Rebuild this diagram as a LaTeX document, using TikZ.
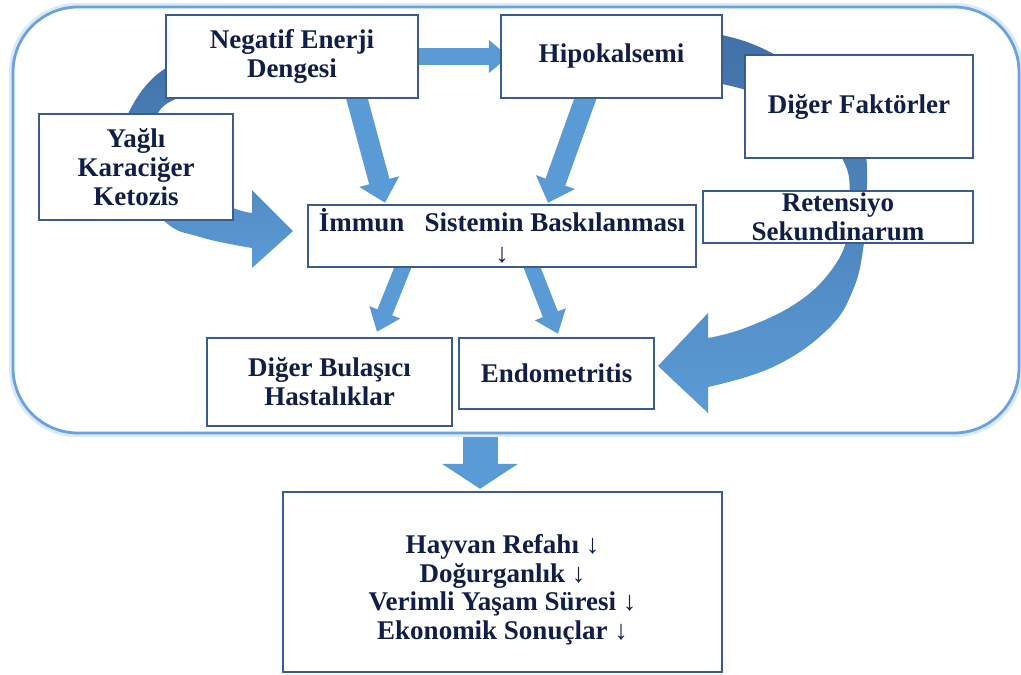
\documentclass[tikz,border=0pt]{standalone}
\usepackage{fontspec}
\setmainfont{Liberation Serif}
\usetikzlibrary{arrows.meta}
\pgfdeclarelayer{back}
\pgfdeclarelayer{arrowlayer}
\pgfsetlayers{back,arrowlayer,main}
\definecolor{arrowblue}{RGB}{91,155,213}
\definecolor{arrowdark}{RGB}{66,112,168}
\definecolor{boxline}{RGB}{58,92,140}
\definecolor{txtcol}{RGB}{16,30,72}
\definecolor{frameblue}{RGB}{105,162,220}
\definecolor{frameglow}{RGB}{218,234,249}
\begin{document}
\begin{tikzpicture}[x=1pt,y=-1pt,
  box/.style={draw=boxline, line width=2.4pt, fill=white, inner sep=0pt, align=center,
    font=\fontsize{27}{29}\selectfont\bfseries, text=txtcol},
  plain/.style={inner sep=0pt, align=center, font=\fontsize{27}{28.5}\selectfont\bfseries, text=txtcol},
  barrow/.style n args={3}{draw=arrowblue, line width=#1, -{Triangle[width=#2, length=#3]}},
  curvearrow/.style={top color=arrowdark, bottom color=arrowblue, draw=none}
]
\useasboundingbox (0,0) rectangle (1021,675);

% outer frame
\node[draw=frameblue, line width=2.8pt, rounded corners=65pt, minimum width=1006pt, minimum height=426pt, inner sep=0pt] (frame) at (516,220) {};
\begin{pgfonlayer}{back}
\draw[frameglow, line width=5pt, rounded corners=65pt] (frame.south west) rectangle (frame.north east);
\end{pgfonlayer}

% boxes
\node[box, minimum width=252pt, minimum height=83pt] (neg) at (292,56.5) {Negatif Enerji\\Dengesi};
\node[box, minimum width=221pt, minimum height=83pt] (hip) at (611.5,56.5) {Hipokalsemi};
\node[box, minimum width=228pt, minimum height=103pt] (dig) at (859,106.5) {Diğer Faktörler};
\node[box, minimum width=194pt, minimum height=106pt] (yag) at (136,167) {Yağlı\\Karaciğer\\Ketozis};
\node[box, minimum width=388pt, minimum height=62pt] (imm) at (502,236) {İmmun\ \ \ Sistemin Baskılanması\\[2pt]↓};
\node[box, minimum width=270pt, minimum height=52pt] (ret) at (838,217) {Retensiyo\\Sekundinarum};
\node[box, minimum width=245pt, minimum height=88pt] (bul) at (329.5,382) {Diğer Bulaşıcı\\Hastalıklar};
\node[box, minimum width=195pt, minimum height=71pt] (endo) at (556.5,373.5) {Endometritis};
\node[box, minimum width=439pt, minimum height=180pt] (bot) at (502.5,582) {};
\node[plain] (bottxt) at (502.5,590) {Hayvan Refahı ↓\\Doğurganlık ↓\\Verimli Yaşam Süresi ↓\\Ekonomik Sonuçlar ↓};

\begin{pgfonlayer}{arrowlayer}
% curved arrows
\shade[curvearrow] plot[smooth, tension=0.7] coordinates {(215,60) (166,68) (128,114) (120,165) (163,220) (200,237) (252,248)}
  -- (252,268) -- (293,231) -- (252,190) --
  plot[smooth, tension=0.7] coordinates {(252,213) (233,208) (185,188) (155,150) (157,115) (180,97) (215,88)} -- cycle;
\shade[curvearrow] plot[smooth, tension=0.7] coordinates {(700,35) (722,35) (770,52) (830,90) (862,140) (867,195) (864,243) (853,290) (827,330) (773,367) (708,387)}
  -- (708,413) -- (658,366) -- (708,313) --
  plot[smooth, tension=0.7] coordinates {(708,338) (745,328) (795,304) (830,272) (848,235) (850,195) (843,160) (810,118) (760,95) (722,84) (700,82)} -- cycle;
% straight block arrows
\draw[barrow={17pt}{32pt}{20pt}] ([xshift=-10pt]neg.east) -- ([xshift=9pt]hip.west);
\draw[barrow={21pt}{40pt}{22pt}] ([xshift=63pt,yshift=8pt]neg.south) -- ([xshift=-117pt,yshift=1pt]imm.north);
\draw[barrow={21pt}{40pt}{22pt}] ([xshift=-23.5pt,yshift=8pt]hip.south) -- ([xshift=46pt,yshift=1pt]imm.north);
\draw[barrow={16pt}{32pt}{21pt}] ([xshift=-97pt,yshift=6pt]imm.south) -- ([xshift=47.5pt,yshift=5pt]bul.north);
\draw[barrow={16pt}{32pt}{21pt}] ([xshift=28pt,yshift=6pt]imm.south) -- ([xshift=1.5pt,yshift=3pt]endo.north);
\draw[barrow={35pt}{75pt}{25pt}] ([xshift=-36pt,yshift=-3pt]frame.south) -- ([xshift=-22.5pt,yshift=2pt]bot.north);
\end{pgfonlayer}
\end{tikzpicture}
\end{document}
